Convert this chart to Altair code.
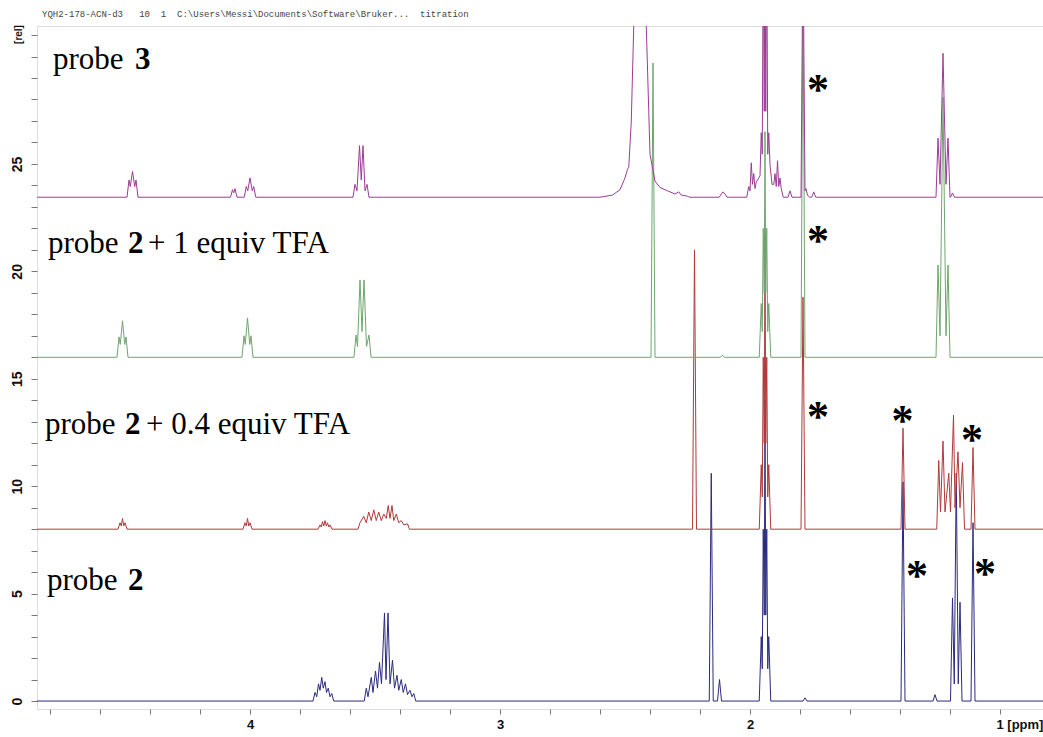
import altair as alt
import pandas as pd

# ---------------- data (ppm, intensity above baseline) ----------------
blue_offset = 0.0
blue_groups = [
    [(3.74, 0.4), (3.733, 0.2), (3.726, 0.8), (3.72, 0.5), (3.713, 1.1), (3.707, 0.6), (3.70, 0.9),
     (3.694, 0.4), (3.687, 0.6), (3.68, 0.2), (3.673, 0.35)],
    [(3.535, 0.6), (3.528, 0.2), (3.515, 1.1), (3.508, 0.4), (3.498, 1.4), (3.49, 0.6), (3.482, 1.8),
     (3.474, 0.8), (3.462, 4.1), (3.456, 1.0), (3.448, 4.1), (3.44, 0.8), (3.43, 1.9), (3.422, 0.6),
     (3.412, 1.2), (3.405, 0.5), (3.395, 1.0), (3.387, 0.4), (3.378, 0.8), (3.37, 0.3), (3.36, 0.5),
     (3.352, 0.2), (3.345, 0.35)],
    [(2.155, 10.6)],
    [(2.122, 1.0)],
    [(1.955, 3.0), (1.951, 1.5), (1.947, 8.0), (1.943, 4.0), (1.940, 14.0), (1.937, 4.0), (1.933, 8.0),
     (1.929, 1.5), (1.925, 3.0)],
    [(1.78, 0.15)],
    [(1.388, 10.2)],
    [(1.26, 0.3)],
    [(1.19, 4.8), (1.183, 0.8), (1.175, 10.6), (1.167, 0.8), (1.16, 4.6)],
    [(1.108, 8.3)],
]

red_offset = 8.0
red_groups = [
    [(4.52, 0.3), (4.515, 0.15), (4.51, 0.5), (4.505, 0.15), (4.50, 0.3)],
    [(4.02, 0.3), (4.015, 0.15), (4.01, 0.5), (4.005, 0.15), (4.00, 0.3)],
    [(3.72, 0.2), (3.715, 0.1), (3.71, 0.35), (3.705, 0.15), (3.70, 0.4), (3.695, 0.15), (3.69, 0.3),
     (3.685, 0.1), (3.68, 0.2)],
    [(3.56, 0.3), (3.545, 0.6), (3.535, 0.3), (3.525, 0.8), (3.515, 0.4), (3.505, 0.9), (3.495, 0.4),
     (3.485, 0.8), (3.475, 0.4), (3.465, 0.7), (3.455, 0.5), (3.447, 1.1), (3.44, 0.5), (3.432, 1.1),
     (3.425, 0.4), (3.415, 0.7), (3.405, 0.3), (3.395, 0.4), (3.385, 0.2), (3.37, 0.25)],
    [(2.222, 13.0)],
    [(1.955, 3.0), (1.951, 1.5), (1.947, 8.0), (1.943, 4.0), (1.940, 13.7), (1.937, 4.0), (1.933, 8.0),
     (1.929, 1.5), (1.925, 3.0)],
    [(1.788, 10.8)],
    [(1.388, 4.7)],
    [(1.245, 3.2), (1.238, 0.8), (1.228, 4.1), (1.22, 0.8), (1.205, 2.6), (1.198, 0.8), (1.186, 5.3),
     (1.18, 1.0), (1.168, 3.6), (1.16, 1.0), (1.15, 3.1)],
    [(1.108, 3.8)],
]

green_offset = 16.0
green_groups = [
    [(4.524, 0.95), (4.519, 0.6), (4.51, 1.7), (4.501, 0.6), (4.496, 0.95)],
    [(4.024, 1.0), (4.019, 0.6), (4.01, 1.83), (4.001, 0.6), (3.996, 1.0)],
    [(3.576, 1.04), (3.57, 0.5), (3.56, 3.6), (3.552, 1.2), (3.544, 3.6), (3.534, 0.5), (3.524, 1.04)],
    [(2.388, 13.7)],
    [(2.11, 0.1)],
    [(1.955, 2.5), (1.951, 1.2), (1.947, 6.0), (1.943, 3.0), (1.940, 10.5), (1.937, 3.0), (1.933, 6.0),
     (1.929, 1.2), (1.925, 2.5)],
    [(1.788, 17.0)],
    [(1.248, 4.3), (1.24, 1.0), (1.228, 12.1), (1.216, 1.0), (1.208, 4.3)],
]

purple_offset = 23.45
purple_groups = [
    [(4.484, 0.8), (4.479, 0.5), (4.47, 1.2), (4.461, 0.5), (4.456, 0.8)],
    [(4.07, 0.35), (4.065, 0.2), (4.06, 0.4)],
    [(4.015, 0.5), (4.009, 0.3), (4.0, 0.9), (3.991, 0.3), (3.985, 0.5)],
    [(3.58, 0.6), (3.572, 0.3), (3.562, 2.4), (3.555, 0.8), (3.548, 2.4), (3.54, 0.3), (3.532, 0.6)],
    [(2.60, 0.0), (2.55, 0.1), (2.52, 0.35), (2.50, 0.9), (2.49, 1.3), (2.485, 1.4), (2.475, 3.5),
     (2.465, 8.0), (2.45, 14.0), (2.43, 14.0), (2.415, 8.0), (2.40, 2.0), (2.38, 0.75), (2.36, 0.45),
     (2.33, 0.3), (2.30, 0.15), (2.285, 0.25), (2.275, 0.1), (2.25, 0.05)],
    [(2.115, 0.15), (2.108, 0.25), (2.10, 0.15)],
    [(2.005, 0.5), (2.0, 0.3), (1.995, 1.6), (1.99, 0.6), (1.985, 1.1), (1.98, 0.4), (1.975, 0.7),
     (1.96, 1.0), (1.955, 3.0), (1.951, 2.0), (1.947, 12.0), (1.943, 4.0), (1.94, 14.0), (1.937, 4.0),
     (1.933, 12.0), (1.929, 2.0), (1.925, 3.0), (1.92, 1.5), (1.912, 0.6),
     (1.905, 0.6), (1.90, 1.1), (1.895, 0.5), (1.89, 1.7), (1.885, 0.5), (1.88, 0.9), (1.875, 0.4)],
    [(1.84, 0.3)],
    [(1.788, 12.0), (1.78, 0.3), (1.776, 0.4), (1.77, 0.1)],
    [(1.745, 0.25)],
    [(1.248, 2.75), (1.24, 0.6), (1.228, 6.7), (1.216, 0.6), (1.208, 2.75)],
    [(1.19, 0.2)],
]

label_rows = [
    # text, ppm, rel, bold
    ("probe", 4.788, 29.4, False), ("3", 4.46, 29.4, True),
    ("probe", 4.808, 20.86, False), ("2", 4.488, 20.86, True), ("+ 1 equiv TFA", 4.408, 20.86, False),
    ("probe", 4.82, 12.43, False), ("2", 4.50, 12.43, True), ("+ 0.4 equiv TFA", 4.416, 12.43, False),
    ("probe", 4.812, 5.17, False), ("2", 4.488, 5.17, True),
]

star_ppm = [1.728, 1.728, 1.728, 1.39, 1.112, 1.332, 1.06]
star_rel = [28.8, 21.8, 13.6, 13.4, 12.5, 6.2, 6.3]

NB = "\u00a0"
header = ("YQH2-178-ACN-d3" + NB * 3 + "10" + NB * 2 + "1" + NB * 2
          + "C:\\Users\\Messi\\Documents\\Software\\Bruker..." + NB * 2 + "titration")

colors = {"probe 2": "#2b2b7e", "probe 2 + 0.4 equiv TFA": "#b03a3a",
          "probe 2 + 1 equiv TFA": "#6fa56f", "probe 3": "#9a3d95"}

X_DOMAIN = [4.852, 0.828]
Y_DOMAIN = [-0.37, 31.42]
PAD = 0.008


def build(name, offset, groups, draw_order):
    pts = [(4.95, 0.0)]
    for g in groups:
        pts.append((g[0][0] + PAD, 0.0))
        pts.extend(g)
        pts.append((g[-1][0] - PAD, 0.0))
    pts.append((0.75, 0.0))
    return pd.DataFrame({
        "ppm": [p[0] for p in pts],
        "rel": [p[1] + offset for p in pts],
        "idx": list(range(len(pts))),
        "series": name,
        "draw": draw_order,
    })


spectra = [
    ("probe 2", blue_offset, blue_groups),
    ("probe 2 + 0.4 equiv TFA", red_offset, red_groups),
    ("probe 2 + 1 equiv TFA", green_offset, green_groups),
    ("probe 3", purple_offset, purple_groups),
]

xscale = alt.Scale(domain=X_DOMAIN, nice=False, zero=False)
yscale = alt.Scale(domain=Y_DOMAIN, nice=False, zero=False)

x_ticks = [4.8, 4.6, 4.4, 4.2, 4.0, 3.8, 3.6, 3.4, 3.2, 3.0, 2.8, 2.6, 2.4, 2.2, 2.0,
           1.8, 1.6, 1.4, 1.2, 1.0]
y_ticks = list(range(0, 32))

x_axis = alt.Axis(
    values=x_ticks, title=None, grid=False, domain=False,
    tickSize=5, tickColor="#777", labelPadding=4,
    labelExpr="abs(datum.value - round(datum.value)) < 0.001 ? (round(datum.value) == 1 ? '1 [ppm]' : format(round(datum.value), 'd')) : ''",
    labelFont="Liberation Sans Narrow, Liberation Sans", labelFontSize=13, labelFontWeight="bold",
    labelColor="#111", labelFlush=False, labelOverlap=False,
    labelAlign={"condition": {"test": "abs(datum.value - 1) < 0.001", "value": "left"}, "value": "center"},
    labelOffset={"condition": {"test": "abs(datum.value - 1) < 0.001", "value": -4}, "value": 0},
)
y_axis = alt.Axis(
    values=y_ticks, title="[rel]", grid=False, domain=False,
    tickSize=6, tickColor="#777", labelPadding=7,
    labelExpr="datum.value % 5 == 0 && datum.value <= 25 ? datum.label : ''",
    labelAngle=270, labelAlign="center", labelBaseline="bottom",
    labelFont="Liberation Sans Narrow, Liberation Sans", labelFontSize=14, labelFontWeight="bold",
    labelColor="#111", labelFlush=False, labelOverlap=False,
    titleAngle=270, titleAlign="center", titleBaseline="middle", titleX=-19, titleY=8,
    titleFont="Liberation Sans", titleFontSize=10, titleFontWeight="bold", titleColor="#111",
)

X = alt.X("ppm:Q", scale=xscale, axis=x_axis)
Y = alt.Y("rel:Q", scale=yscale, axis=y_axis)

layers = []
for i, (name, off, groups) in enumerate(spectra):
    df = build(name, off, groups, i)
    layers.append(
        alt.Chart(df).mark_line(strokeWidth=1, clip=True, color=colors[name]).encode(
            x=X, y=Y, order="idx:Q",
        )
    )

lab_df = pd.DataFrame(label_rows, columns=["text", "ppm", "rel", "bold"])
normal = alt.Chart(lab_df[~lab_df["bold"]]).mark_text(
    align="left", baseline="alphabetic", font="Liberation Serif", fontSize=31, color="#000"
).encode(x=X, y=Y, text="text:N")
bold = alt.Chart(lab_df[lab_df["bold"]]).mark_text(
    align="left", baseline="alphabetic", font="Liberation Serif", fontSize=31, fontWeight="bold", color="#000"
).encode(x=X, y=Y, text="text:N")

star_df = pd.DataFrame({"ppm": star_ppm, "rel": star_rel, "t": ["*"] * len(star_ppm)})
stars = alt.Chart(star_df).mark_text(
    align="center", baseline="alphabetic", font="Liberation Serif", fontSize=44, fontWeight="bold",
    color="#000", dy=22
).encode(x=X, y=Y, text="t:N")

chart = alt.layer(*layers, normal, bold, stars).properties(
    width=1006, height=683,
    title=alt.TitleParams(header, anchor="start", frame="group", font="Liberation Mono", fontSize=9,
                          fontWeight="normal", color="#444", offset=6, dx=5),
    autosize=alt.AutoSizeParams(type="none"),
    padding={"left": 37, "top": 26, "right": 0, "bottom": 28},
).configure_view(stroke="#888", strokeWidth=1).configure(background="white")

chart.save("out.html", embed_options={"renderer": "svg", "actions": False})
